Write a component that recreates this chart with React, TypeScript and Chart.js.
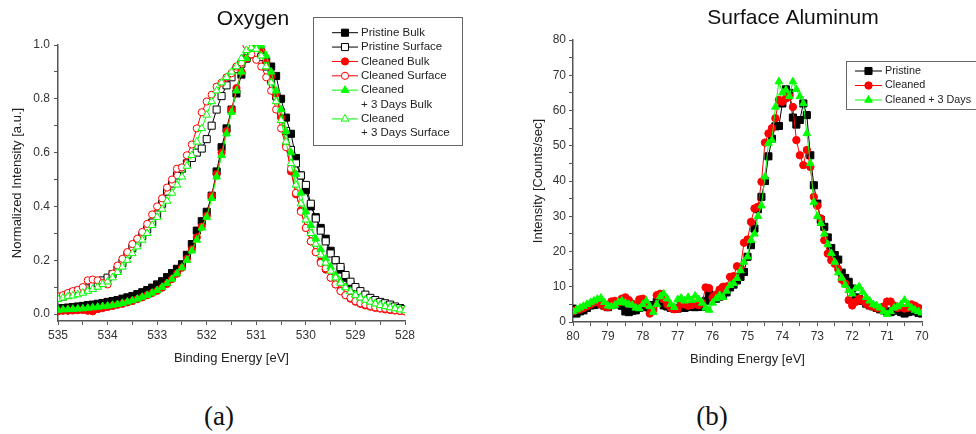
import React, { useEffect, useRef } from 'react';
import { Chart, registerables } from 'chart.js';
import { drawPoint } from 'chart.js/helpers';

Chart.register(...registerables);

// ---------- Oxygen (a) ----------
const OXY_ENERGY = [
  535.0, 534.9, 534.8, 534.7, 534.6, 534.5, 534.4, 534.3, 534.2, 534.1,
  534.0, 533.9, 533.8, 533.7, 533.6, 533.5, 533.4, 533.3, 533.2, 533.1,
  533.0, 532.9, 532.8, 532.7, 532.6, 532.5, 532.4, 532.3, 532.2, 532.1,
  532.0, 531.9, 531.8, 531.7, 531.6, 531.5, 531.4, 531.3, 531.2, 531.1,
  531.0, 530.9, 530.8, 530.7, 530.6, 530.5, 530.4, 530.3, 530.2, 530.1,
  530.0, 529.9, 529.8, 529.7, 529.6, 529.5, 529.4, 529.3, 529.2, 529.1,
  529.0, 528.9, 528.8, 528.7, 528.6, 528.5, 528.4, 528.3, 528.2, 528.1,
  528.0,
];
const PRISTINE_BULK = [
  0.020, 0.022, 0.024, 0.026, 0.028, 0.030, 0.033, 0.035, 0.038, 0.041,
  0.045, 0.048, 0.052, 0.057, 0.062, 0.067, 0.074, 0.081, 0.089, 0.098,
  0.110, 0.122, 0.137, 0.152, 0.168, 0.185, 0.220, 0.260, 0.310, 0.345,
  0.380, 0.440, 0.530, 0.620, 0.690, 0.760, 0.820, 0.890, 0.950, 0.990,
  1.000, 0.970, 0.940, 0.920, 0.885, 0.800, 0.730, 0.670, 0.580, 0.515,
  0.460, 0.400, 0.360, 0.320, 0.280, 0.235, 0.200, 0.165, 0.135, 0.110,
  0.090, 0.075, 0.060, 0.050, 0.042, 0.036, 0.030, 0.026, 0.022, 0.019,
  0.016,
];
const PRISTINE_SURFACE = [
  0.060, 0.065, 0.072, 0.080, 0.086, 0.088, 0.095, 0.105, 0.115, 0.125,
  0.135, 0.148, 0.165, 0.190, 0.220, 0.245, 0.265, 0.290, 0.315, 0.340,
  0.370, 0.410, 0.455, 0.485, 0.515, 0.540, 0.560, 0.580, 0.600, 0.615,
  0.650, 0.700, 0.760, 0.810, 0.850, 0.880, 0.910, 0.930, 0.950, 0.965,
  0.970, 0.955, 0.920, 0.870, 0.810, 0.750, 0.680, 0.610, 0.560, 0.515,
  0.480, 0.410, 0.355, 0.310, 0.270, 0.225, 0.200, 0.175, 0.145, 0.120,
  0.100, 0.085, 0.072, 0.060, 0.052, 0.045, 0.040, 0.035, 0.028, 0.022,
  0.018,
];
const CLEANED_BULK = [
  0.010, 0.012, 0.012, 0.013, 0.014, 0.015, 0.012, 0.010, 0.018, 0.022,
  0.026, 0.030, 0.034, 0.038, 0.043, 0.048, 0.055, 0.062, 0.070, 0.078,
  0.086, 0.098, 0.112, 0.130, 0.150, 0.172, 0.205, 0.240, 0.285, 0.325,
  0.365, 0.440, 0.520, 0.600, 0.680, 0.760, 0.840, 0.900, 0.950, 0.985,
  1.000, 0.980, 0.935, 0.885, 0.820, 0.730, 0.630, 0.530, 0.445, 0.385,
  0.320, 0.270, 0.230, 0.195, 0.165, 0.135, 0.110, 0.088, 0.070, 0.057,
  0.046, 0.038, 0.032, 0.027, 0.023, 0.020, 0.017, 0.015, 0.013, 0.011,
  0.010,
];
const CLEANED_SURFACE = [
  0.065, 0.070, 0.078, 0.085, 0.090, 0.100, 0.125, 0.128, 0.125, 0.115,
  0.110, 0.150, 0.180, 0.205, 0.230, 0.260, 0.280, 0.305, 0.335, 0.370,
  0.400, 0.430, 0.470, 0.500, 0.540, 0.545, 0.590, 0.630, 0.690, 0.750,
  0.790, 0.815, 0.845, 0.860, 0.880, 0.895, 0.920, 0.935, 1.000, 0.965,
  0.945, 0.920, 0.880, 0.830, 0.760, 0.690, 0.620, 0.540, 0.450, 0.380,
  0.320, 0.270, 0.230, 0.190, 0.170, 0.135, 0.110, 0.085, 0.070, 0.060,
  0.048, 0.040, 0.035, 0.030, 0.025, 0.022, 0.020, 0.017, 0.014, 0.012,
  0.010,
];
const CLEANED3_BULK = [
  0.015, 0.016, 0.017, 0.018, 0.019, 0.020, 0.022, 0.024, 0.026, 0.028,
  0.030, 0.033, 0.036, 0.040, 0.045, 0.050, 0.056, 0.063, 0.070, 0.078,
  0.088, 0.100, 0.114, 0.130, 0.150, 0.172, 0.200, 0.235, 0.275, 0.320,
  0.360, 0.430, 0.510, 0.590, 0.670, 0.750, 0.830, 0.900, 0.950, 0.985,
  0.995, 1.000, 0.960, 0.900, 0.830, 0.760, 0.680, 0.600, 0.520, 0.450,
  0.380, 0.330, 0.280, 0.240, 0.205, 0.175, 0.145, 0.120, 0.100, 0.085,
  0.072, 0.062, 0.053, 0.046, 0.040, 0.035, 0.030, 0.026, 0.022, 0.018,
  0.015,
];
const CLEANED3_SURFACE = [
  0.055, 0.060, 0.065, 0.068, 0.072, 0.078, 0.085, 0.092, 0.100, 0.110,
  0.120, 0.135, 0.155, 0.175, 0.200, 0.225, 0.250, 0.275, 0.300, 0.330,
  0.360, 0.390, 0.420, 0.450, 0.480, 0.510, 0.550, 0.590, 0.640, 0.690,
  0.740, 0.790, 0.830, 0.860, 0.880, 0.900, 0.920, 0.950, 0.980, 0.990,
  0.985, 0.960, 0.920, 0.860, 0.790, 0.720, 0.640, 0.560, 0.480, 0.410,
  0.350, 0.300, 0.260, 0.220, 0.190, 0.160, 0.135, 0.115, 0.098, 0.083,
  0.070, 0.060, 0.052, 0.045, 0.038, 0.032, 0.028, 0.024, 0.020, 0.016,
  0.013,
];
const OXY_LABELS = [
  'Pristine Bulk',
  'Pristine Surface',
  'Cleaned Bulk',
  'Cleaned Surface',
  'Cleaned\n+ 3 Days Bulk',
  'Cleaned\n+ 3 Days Surface',
];

// ---------- Surface Aluminum (b) ----------
const AL_ENERGY = [
  80.0, 79.9, 79.8, 79.7, 79.6, 79.5, 79.4, 79.3, 79.2, 79.1,
  79.0, 78.9, 78.8, 78.7, 78.6, 78.5, 78.4, 78.3, 78.2, 78.1,
  78.0, 77.9, 77.8, 77.7, 77.6, 77.5, 77.4, 77.3, 77.2, 77.1,
  77.0, 76.9, 76.8, 76.7, 76.6, 76.5, 76.4, 76.3, 76.2, 76.1,
  76.0, 75.9, 75.8, 75.7, 75.6, 75.5, 75.4, 75.3, 75.2, 75.1,
  75.0, 74.9, 74.8, 74.7, 74.6, 74.5, 74.4, 74.3, 74.2, 74.1,
  74.0, 73.9, 73.8, 73.7, 73.6, 73.5, 73.4, 73.3, 73.2, 73.1,
  73.0, 72.9, 72.8, 72.7, 72.6, 72.5, 72.4, 72.3, 72.2, 72.1,
  72.0, 71.9, 71.8, 71.7, 71.6, 71.5, 71.4, 71.3, 71.2, 71.1,
  71.0, 70.9, 70.8, 70.7, 70.6, 70.5, 70.4, 70.3, 70.2, 70.1,
  70.0,
];
const AL_PRISTINE = [
  3.8, 2.4, 3.0, 3.3, 4.0, 4.7, 4.8, 5.2, 5.0, 4.6,
  4.2, 4.8, 5.2, 5.0, 4.6, 3.0, 2.8, 3.2, 3.3, 4.0,
  4.6, 4.2, 3.8, 4.8, 5.7, 5.4, 4.7, 4.4, 4.0, 3.8,
  3.8, 4.2, 4.0, 4.3, 4.4, 4.2, 4.3, 4.3, 6.0, 8.0,
  7.0, 6.6, 7.2, 7.6, 8.4, 9.8, 10.6, 11.8, 12.8, 14.2,
  18.5, 21.8, 26.5, 32.0, 35.5, 40.0, 47.0, 52.0, 55.5, 55.6,
  62.0, 66.0, 65.0, 58.0, 56.0, 57.3, 62.0, 58.7, 47.3, 38.8,
  33.6, 29.0, 27.0, 24.0, 21.0, 19.0, 17.7, 14.0, 12.5, 11.4,
  9.5, 7.0, 6.5, 6.0, 5.2, 4.7, 4.4, 4.0, 3.6, 3.3,
  3.0, 2.8, 3.2, 3.5, 2.8, 2.4, 2.8, 3.2, 3.0, 2.6,
  2.4,
];
const AL_CLEANED = [
  3.0, 3.4, 3.6, 4.0, 4.5, 5.0, 5.5, 5.6, 5.0, 4.4,
  4.2, 5.8, 6.0, 5.6, 6.6, 7.0, 6.2, 5.2, 4.6, 6.4,
  6.6, 5.0, 2.4, 3.5, 7.6, 8.0, 6.4, 5.0, 4.0, 3.6,
  3.8, 5.4, 5.0, 4.6, 4.8, 5.2, 4.8, 5.4, 9.8, 9.6,
  7.0, 7.8, 9.2, 10.0, 10.1, 12.8, 13.0, 15.8, 15.6, 22.5,
  23.4, 28.4, 32.2, 32.7, 39.8, 50.9, 53.5, 55.0, 57.8, 63.0,
  62.5, 63.4, 64.0, 61.0, 51.6, 47.3, 44.5, 48.8, 44.0, 35.5,
  33.0, 29.4, 23.2, 19.4, 17.5, 16.5, 15.0, 12.0, 10.9, 6.2,
  4.7, 5.7, 6.6, 6.0, 5.2, 4.6, 4.4, 4.0, 3.8, 4.4,
  5.8, 5.8, 4.6, 4.0, 4.2, 3.8, 4.0, 5.0, 4.6, 4.0,
  3.6,
];
const AL_CLEANED3 = [
  3.0, 3.5, 4.0, 4.5, 5.0, 5.5, 6.0, 6.5, 6.8, 5.6,
  4.6, 4.4, 4.8, 5.6, 6.0, 5.4, 5.0, 4.8, 4.0, 3.8,
  5.0, 6.0, 4.4, 2.8, 5.0, 7.2, 8.0, 6.6, 5.0, 4.2,
  6.4, 6.8, 6.0, 7.0, 6.2, 7.4, 6.4, 5.4, 4.0, 3.4,
  5.4, 6.6, 7.6, 7.0, 8.8, 10.4, 11.0, 12.4, 14.6, 17.0,
  18.5, 23.2, 25.0, 30.0, 33.0, 41.2, 50.7, 51.6, 61.0, 68.2,
  65.0, 65.8, 64.0, 68.2, 66.0, 64.0, 62.0, 53.5, 45.0, 34.0,
  30.0, 28.0, 25.0, 22.0, 19.5, 17.0, 14.0, 12.5, 10.5, 9.0,
  8.0, 9.5, 10.0, 8.5, 7.0, 6.0, 5.0, 4.6, 4.0, 3.0,
  2.2, 3.0, 4.0, 4.4, 5.0, 6.2, 5.0, 4.0, 3.4, 3.0,
  2.6,
];
const AL_LABELS = ['Pristine', 'Cleaned', 'Cleaned + 3 Days'];

// ---------- styling ----------
const FAMILY = '"Liberation Sans", Arial, Helvetica, sans-serif';
const BLACK = '#000000';
const RED = '#ff0000';
const GREEN = '#00ff00';
const AXIS = '#555555';

function series(label: string, xs: number[], ys: number[], color: string, style: string, radius: number, filled: boolean, order: number) {
  return {
    label,
    data: xs.map((x, i) => ({ x, y: ys[i] })),
    borderColor: color,
    backgroundColor: color,
    borderWidth: 1,
    pointStyle: style,
    pointRadius: radius,
    pointBorderColor: color,
    pointBackgroundColor: filled ? color : '#ffffff',
    pointBorderWidth: 1,
    tension: 0,
    order,
  };
}

const overlayPlugin = {
  id: 'overlay',
  afterDraw(chart: any, _args: any, opts: any) {
    const ctx = chart.ctx as CanvasRenderingContext2D;
    ctx.save();
    ctx.font = `21px ${FAMILY}`;
    ctx.fillStyle = '#111';
    ctx.textAlign = 'center';
    ctx.textBaseline = 'middle';
    ctx.fillText(opts.title, opts.titleX, opts.titleY);

    const L = opts.legend;
    ctx.fillStyle = '#ffffff';
    ctx.fillRect(L.x, L.y, L.w, L.h);
    ctx.strokeStyle = '#666';
    ctx.lineWidth = 1;
    ctx.strokeRect(L.x + 0.5, L.y + 0.5, L.w, L.h);
    let row = 0;
    chart.data.datasets.forEach((ds: any) => {
      const lines = String(ds.label).split('\n');
      const y = L.firstRow + row * L.rowGap;
      ctx.strokeStyle = ds.borderColor;
      ctx.lineWidth = 1;
      ctx.beginPath();
      ctx.moveTo(L.lineX0, y);
      ctx.lineTo(L.lineX1, y);
      ctx.stroke();
      ctx.fillStyle = ds.pointBackgroundColor;
      ctx.strokeStyle = ds.pointBorderColor;
      drawPoint(ctx, { pointStyle: ds.pointStyle, radius: ds.pointRadius, rotation: 0, borderWidth: 1 } as any, (L.lineX0 + L.lineX1) / 2, y);
      ctx.fillStyle = '#222';
      ctx.font = `${L.fontSize}px ${FAMILY}`;
      ctx.textAlign = 'left';
      ctx.textBaseline = 'middle';
      lines.forEach((t, k) => ctx.fillText(t, L.textX, y + k * L.rowGap));
      row += lines.length;
    });
    ctx.restore();
  },
};

function axisCommon() {
  return {
    grid: { drawOnChartArea: false, drawTicks: true, tickLength: 4, color: AXIS, lineWidth: 1 },
    border: { display: true, color: AXIS, width: 1.5 },
  };
}

const tickFont = { family: FAMILY, size: 12 };
const titleFont = { family: FAMILY, size: 13 };

function oxygenConfig(): any {
  return {
    type: 'line',
    data: {
      datasets: [
        series(OXY_LABELS[0], OXY_ENERGY, PRISTINE_BULK, BLACK, 'rect', 5, true, 6),
        series(OXY_LABELS[1], OXY_ENERGY, PRISTINE_SURFACE, BLACK, 'rect', 5, false, 5),
        series(OXY_LABELS[2], OXY_ENERGY, CLEANED_BULK, RED, 'circle', 3.6, true, 4),
        series(OXY_LABELS[3], OXY_ENERGY, CLEANED_SURFACE, RED, 'circle', 3.6, false, 3),
        series(OXY_LABELS[4], OXY_ENERGY, CLEANED3_BULK, GREEN, 'triangle', 4.4, true, 2),
        series(OXY_LABELS[5], OXY_ENERGY, CLEANED3_SURFACE, GREEN, 'triangle', 4.4, false, 1),
      ],
    },
    options: {
      animation: false,
      responsive: false,
      maintainAspectRatio: false,
      devicePixelRatio: 1,
      events: [],
      layout: { autoPadding: false, padding: { left: 0, right: 83, top: 45, bottom: 14 } },
      plugins: {
        legend: { display: false },
        tooltip: { enabled: false },
        overlay: {
          title: 'Oxygen', titleX: 253, titleY: 19,
          legend: { x: 313, y: 17, w: 149, h: 128, firstRow: 32.7, rowGap: 14.37, lineX0: 332, lineX1: 358, textX: 361, fontSize: 11.5 },
        },
      },
      scales: {
        x: {
          type: 'linear', reverse: true, min: 528, max: 535,
          afterFit: (s: any) => { s.height = 45; },
          ticks: {
            stepSize: 0.5, autoSkip: false, maxRotation: 0, padding: 3, color: '#333', font: tickFont, includeBounds: false,
            callback: (v: number) => (Number.isInteger(v) ? String(v) : ''),
          },
          title: { display: true, text: 'Binding Energy [eV]', color: '#222', font: titleFont, padding: { top: 0, bottom: 0 } },
          ...axisCommon(),
        },
        y: {
          type: 'linear', min: -0.026, max: 1.0,
          afterFit: (s: any) => { s.width = 58; },
          ticks: {
            stepSize: 0.1, autoSkip: false, padding: 4, color: '#333', font: tickFont, includeBounds: false,
            callback: (v: number) => (Math.round(v * 10) % 2 === 0 ? v.toFixed(1) : ''),
          },
          title: { display: true, text: 'Normalized Intensity [a.u.]', color: '#222', font: titleFont, padding: { top: 10, bottom: 0 } },
          ...axisCommon(),
        },
      },
    },
    plugins: [overlayPlugin],
  };
}

function aluminumConfig(): any {
  return {
    type: 'line',
    data: {
      datasets: [
        series(AL_LABELS[0], AL_ENERGY, AL_PRISTINE, BLACK, 'rect', 5, true, 3),
        series(AL_LABELS[1], AL_ENERGY, AL_CLEANED, RED, 'circle', 3.7, true, 2),
        series(AL_LABELS[2], AL_ENERGY, AL_CLEANED3, GREEN, 'triangle', 4.4, true, 1),
      ],
    },
    options: {
      animation: false,
      responsive: false,
      maintainAspectRatio: false,
      devicePixelRatio: 1,
      events: [],
      layout: { autoPadding: false, padding: { left: 30, right: 54, top: 40, bottom: 13 } },
      plugins: {
        legend: { display: false },
        tooltip: { enabled: false },
        overlay: {
          title: 'Surface Aluminum', titleX: 305, titleY: 18,
          legend: { x: 358, y: 61, w: 140, h: 48, firstRow: 71, rowGap: 14.5, lineX0: 367, lineX1: 394, textX: 397, fontSize: 10.8 },
        },
      },
      scales: {
        x: {
          type: 'linear', reverse: true, min: 70, max: 80,
          afterFit: (s: any) => { s.height = 45; },
          ticks: {
            stepSize: 0.5, autoSkip: false, maxRotation: 0, padding: 3, color: '#333', font: tickFont, includeBounds: false,
            callback: (v: number) => (Number.isInteger(v) ? String(v) : ''),
          },
          title: { display: true, text: 'Binding Energy [eV]', color: '#222', font: titleFont, padding: { top: 0, bottom: 0 } },
          ...axisCommon(),
        },
        y: {
          type: 'linear', min: 0, max: 80,
          afterFit: (s: any) => { s.width = 55; },
          ticks: {
            stepSize: 5, autoSkip: false, padding: 3, color: '#333', font: tickFont, includeBounds: false,
            callback: (v: number) => (v % 10 === 0 ? String(v) : ''),
          },
          title: { display: true, text: 'Intensity [Counts/sec]', color: '#222', font: titleFont, padding: { top: 13, bottom: 0 } },
          ...axisCommon(),
        },
      },
    },
    plugins: [overlayPlugin],
  };
}

function ChartCanvas({ make, left }: { make: () => any; left: number }) {
  const ref = useRef<HTMLCanvasElement | null>(null);
  useEffect(() => {
    if (!ref.current) return;
    const chart = new Chart(ref.current, make());
    return () => chart.destroy();
  }, [make]);
  return (
    <canvas
      ref={ref}
      width={488}
      height={380}
      style={{ position: 'absolute', left, top: 0, width: 488, height: 380 }}
    />
  );
}

const captionStyle: React.CSSProperties = {
  position: 'absolute',
  top: 403,
  width: 100,
  textAlign: 'center',
  fontFamily: '"Liberation Serif", "Times New Roman", serif',
  fontSize: 27,
  lineHeight: '27px',
  color: '#111',
};

export default function App() {
  return (
    <div style={{ position: 'absolute', left: 0, top: 0, width: 976, height: 434, background: '#ffffff', overflow: 'hidden' }}>
      <ChartCanvas make={oxygenConfig} left={0} />
      <ChartCanvas make={aluminumConfig} left={488} />
      <div style={{ ...captionStyle, left: 169 }}>(a)</div>
      <div style={{ ...captionStyle, left: 662 }}>(b)</div>
    </div>
  );
}
